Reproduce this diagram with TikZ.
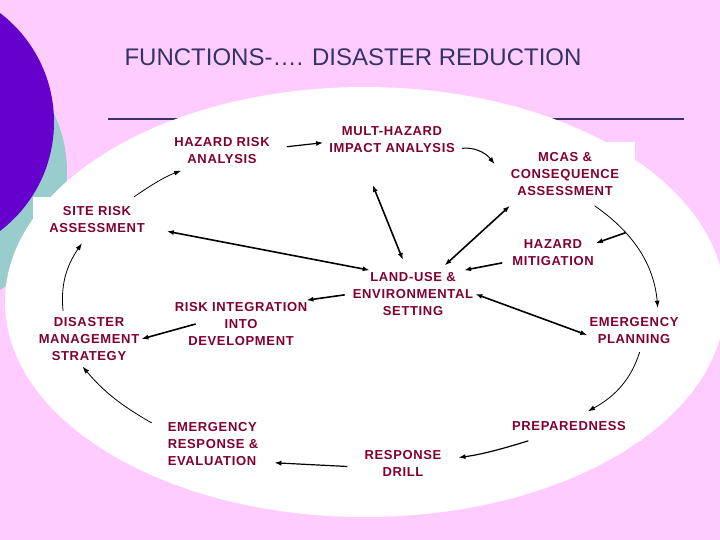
\documentclass[tikz,border=0pt]{standalone}
\usepackage{fontspec}
\setmainfont{Liberation Sans}
\newfontfamily\lblfont{Liberation Sans}[LetterSpace=5]
\usetikzlibrary{arrows.meta}
\definecolor{bgpink}{HTML}{FFCCFF}
\definecolor{deepviolet}{HTML}{6600CC}
\definecolor{paleteal}{HTML}{99CCCC}
\definecolor{slatenavy}{HTML}{333366}
\definecolor{wine}{HTML}{800033}

\begin{document}
\begin{tikzpicture}[x=1pt, y=1pt]
\tikzset{ >={Latex[length=7pt,width=5pt]},
  lbl/.style={text=wine, font=\lblfont\bfseries\fontsize{13}{17}\selectfont, align=center, inner sep=2pt},
  box/.style={lbl, fill=white, inner xsep=16pt, inner ysep=10pt},
  ring/.style={->, line width=0.8pt},
  link/.style={->, line width=1.6pt},
  both/.style={<->, line width=1.6pt} }
%\draw [lightgray, dashed] (0,0) grid [step=20] (720,-540);

\useasboundingbox (0,0) rectangle (720,-540);
\fill [bgpink] (0,0) rectangle (720,-540);
\fill [paleteal] (-70,-172) circle (137pt);
\fill [deepviolet] (-83,-122) circle (137pt);
\draw [slatenavy, line width=2pt] (108,-119) -- (684,-119);
\fill [white] (365,-302) ellipse (360pt and 215pt);

\node [text=slatenavy, font=\fontsize{24}{28}\selectfont] (title) at (353,-57) {FUNCTIONS-…. DISASTER REDUCTION};

\node [lbl] (hra)  at (222,-151) {HAZARD RISK\\ANALYSIS};
\node [lbl] (mha)  at (392,-140) {MULT-HAZARD\\IMPACT ANALYSIS};
\node [box] (mcas) at (565,-174) {MCAS \&\\CONSEQUENCE\\ASSESSMENT};
\node [box] (sra)  at (97,-220)  {SITE RISK\\ASSESSMENT};
\node [lbl] (dms)  at (89,-339)  {DISASTER\\MANAGEMENT\\STRATEGY};
\node [lbl] (rid)  at (241,-324) {RISK INTEGRATION\\INTO\\DEVELOPMENT};
\node [lbl] (lue)  at (413,-294) {LAND-USE \&\\ENVIRONMENTAL\\SETTING};
\node [lbl] (hm)   at (553,-253) {HAZARD\\MITIGATION};
\node [lbl] (ep)   at (634,-331) {EMERGENCY\\PLANNING};
\node [box] (prep) at (569,-426) {PREPAREDNESS};
\node [lbl] (rd)   at (403,-463) {RESPONSE\\DRILL};
\node [box, align=left] (ere) at (213,-444) {EMERGENCY\\RESPONSE \&\\EVALUATION};

% outer cycle
\draw [ring, shorten >=14pt] (sra.32) to [bend left=8] (hra.209);
\draw [->, line width=1.2pt, shorten <=15pt, shorten >=4pt] (hra.3) -- (mha.182);
\draw [ring, line width=1pt, shorten <=5pt] (mha.-8) to [bend left=30] (mcas.172);
\draw [ring, shorten >=8pt] (mcas.-47) to [bend left=25] coordinate [pos=0.3] (arcpt) (ep.32);
\draw [ring, shorten <=6pt] (ep.-64) to [bend left=22] (prep.38);
\draw [->, line width=1.2pt, shorten >=15pt] (prep.200) to [bend left=5] (rd.5);
\draw [->, line width=1.2pt, shorten <=15pt] (rd.186) -- (ere.-17);
\draw [ring, shorten >=5pt] (ere.161) to [bend left=10] (dms.-112);
\draw [ring, shorten <=4pt] (dms.137) to [bend left=20] (sra.-123);

% spokes
\draw [link, shorten <=6pt] (lue.west) -- (rid.20);
\draw [link] ([xshift=23pt]rid.west) -- (dms.east);
\draw [both, shorten <=6pt] (sra.-9) -- ([xshift=19pt]lue.north west);
\draw [both, shorten <=32pt, shorten >=11pt] (mha.206) -- (lue.104);
\draw [both, shorten <=7pt] (lue.42) -- (mcas.210);
\draw [link, shorten <=8pt] (hm.191) -- (lue.25);
\draw [link] (arcpt) -- (hm.13);
\draw [both] (lue.east) -- (ep.185);

\end{tikzpicture}
\end{document}
